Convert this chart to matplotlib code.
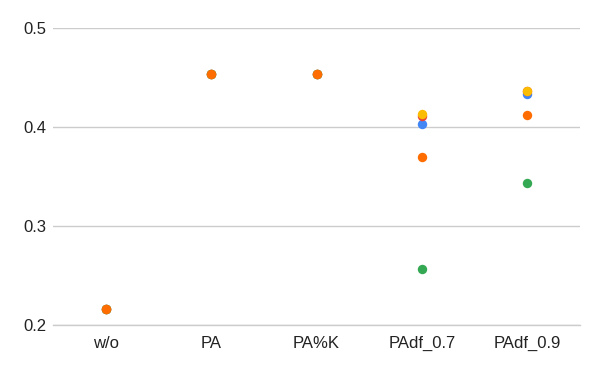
import matplotlib
matplotlib.use("Agg")
import matplotlib.pyplot as plt

# ── Data ─────────────────────────────────────────────────────────────────────
categories = ["w/o", "PA", "PA%K", "PAdf_0.7", "PAdf_0.9"]

series_blue = [0.216, 0.4535, 0.4535, 0.403, 0.4335]
series_red = [0.216, 0.4535, 0.4535, 0.411, 0.436]
series_yellow = [0.216, 0.4535, 0.4535, 0.413, 0.436]
series_green = [0.216, 0.4535, 0.4535, 0.257, 0.343]
series_orange = [0.216, 0.4535, 0.4535, 0.370, 0.412]

y_ticks = [0.2, 0.3, 0.4, 0.5]

# ── Plot ─────────────────────────────────────────────────────────────────────
plt.rcParams["font.family"] = ["Liberation Sans", "DejaVu Sans"]

fig = plt.figure(figsize=(6, 3.71), dpi=100, facecolor="white")
ax = fig.add_axes([0.0883, 0.124, 0.8784, 0.8005])

series = [
    (series_blue, "#4285F4"),
    (series_red, "#EA4335"),
    (series_yellow, "#FBBC04"),
    (series_green, "#34A853"),
    (series_orange, "#FF6D01"),
]
x = list(range(len(categories)))
for values, color in series:
    ax.scatter(x, values, s=46, color=color, linewidths=0, zorder=3)

ax.set_xlim(-0.5, len(categories) - 0.5)
ax.set_ylim(0.2, 0.5)
ax.set_yticks(y_ticks)
ax.set_yticklabels([f"{t:.1f}" for t in y_ticks])
ax.set_xticks(x)
ax.set_xticklabels(categories)

ax.grid(axis="y", color="#cccccc", linewidth=1)
ax.set_axisbelow(True)
for side in ["top", "right", "left"]:
    ax.spines[side].set_visible(False)
ax.spines["bottom"].set_color("#cccccc")
ax.spines["bottom"].set_linewidth(1)
ax.tick_params(axis="both", length=0, labelsize=12, colors="#222222")
ax.tick_params(axis="y", pad=5)
ax.tick_params(axis="x", pad=8)

fig.savefig("out.png", dpi=100, facecolor="white")
